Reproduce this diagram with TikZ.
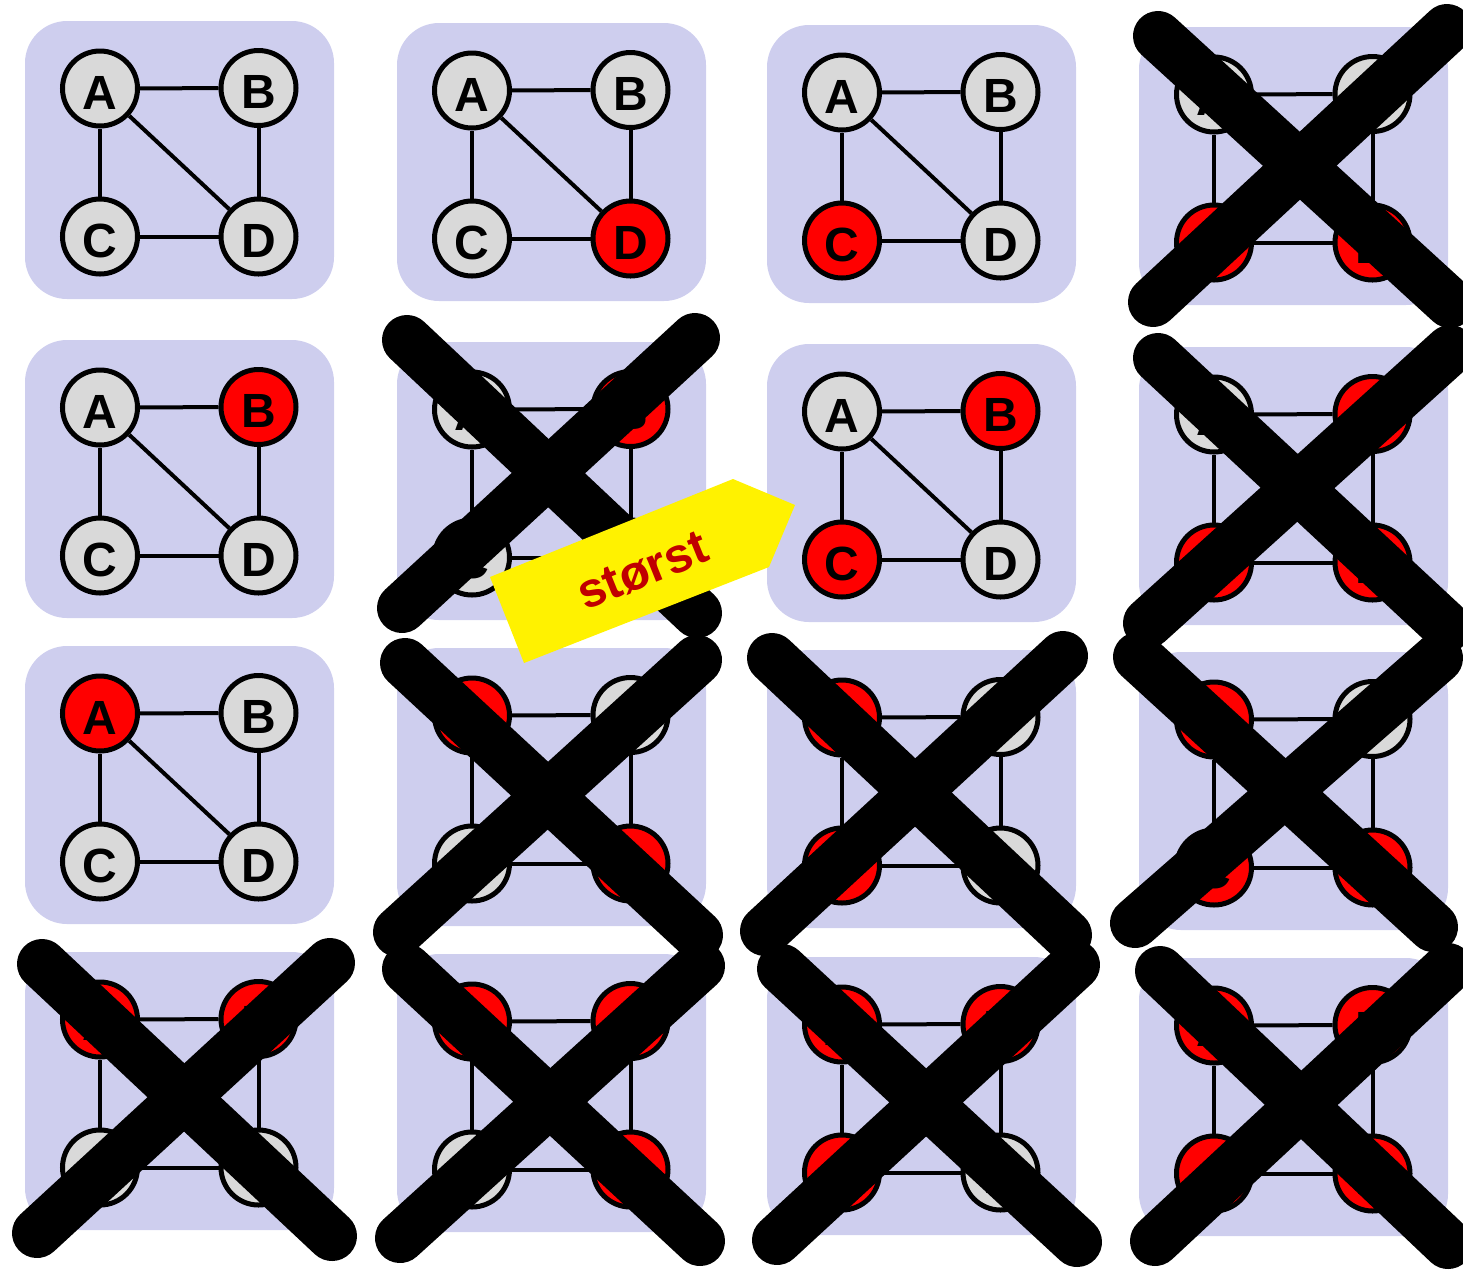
\documentclass[tikz,border=0pt]{standalone}
\usepackage{fontspec}
\setmainfont{Liberation Sans}
\definecolor{panelbg}{RGB}{206,206,238}
\definecolor{nodegray}{RGB}{217,217,217}
\definecolor{txtred}{RGB}{192,0,0}
\tikzset{
  panelbox/.style={fill=panelbg, rounded corners=21pt},
  vert/.style={circle, draw=black, line width=2.5pt, minimum size=37.5pt, inner sep=0pt,
    text height=20.5pt, text depth=0pt,
    font=\fontsize{24pt}{24pt}\selectfont\bfseries},
  vgray/.style={vert, fill=nodegray},
  vred/.style={vert, fill=red},
  gedge/.style={line width=2pt},
  crossline/.style={line width=25pt, line cap=round},
  arrowbody/.style={fill=yellow},
  arrowtext/.style={text=txtred, font=\fontsize{24.5pt}{25pt}\selectfont\bfseries, inner sep=0pt},
}
\newcommand\gpanel[7]{%
  \begin{scope}[shift={(#1,#2)}]
    \fill[panelbox] (0,0) rectangle (309,278);
    \node[#4] (#3A) at (75,67.5) {A};
    \node[#5] (#3B) at (233.5,67) {B};
    \node[#6] (#3C) at (75,215.5) {C};
    \node[#7] (#3D) at (233.5,215.5) {D};
    \draw[gedge] (#3A) -- (#3B);
    \draw[gedge] (#3A) -- (#3C);
    \draw[gedge] (#3A) -- (#3D);
    \draw[gedge] (#3B) -- (#3D);
    \draw[gedge] (#3C) -- (#3D);
  \end{scope}}
\begin{document}
\begin{tikzpicture}[x=0.5pt, y=-0.5pt]
  \useasboundingbox (0,0) rectangle (1463,1271);
  \clip (0,0) rectangle (1463,1271);
  % row 1
  \gpanel{25}{21}{pa}{vgray}{vgray}{vgray}{vgray}
  \gpanel{397}{23}{pb}{vgray}{vgray}{vgray}{vred}
  \gpanel{767}{25}{pc}{vgray}{vgray}{vred}{vgray}
  \gpanel{1139}{27}{pd}{vgray}{vgray}{vred}{vred}
  % row 2
  \gpanel{25}{340}{pe}{vgray}{vred}{vgray}{vgray}
  \gpanel{397}{342}{pf}{vgray}{vred}{vgray}{vred}
  \gpanel{767}{344}{pg}{vgray}{vred}{vred}{vgray}
  \gpanel{1139}{347}{ph}{vgray}{vred}{vred}{vred}
  % row 3
  \gpanel{25}{646}{pi}{vred}{vgray}{vgray}{vgray}
  \gpanel{397}{648}{pj}{vred}{vgray}{vgray}{vred}
  \gpanel{767}{650}{pk}{vred}{vgray}{vred}{vgray}
  \gpanel{1139}{652}{pl}{vred}{vgray}{vred}{vred}
  % row 4
  \gpanel{25}{952}{pm}{vred}{vred}{vgray}{vgray}
  \gpanel{397}{954}{pn}{vred}{vred}{vgray}{vred}
  \gpanel{767}{957}{po}{vred}{vred}{vred}{vgray}
  \gpanel{1139}{958}{pp}{vred}{vred}{vred}{vred}
  % crosses
  \draw[crossline] (1158,36) -- (1450,303);
  \draw[crossline] (1447,29) -- (1153,302);
  \draw[crossline] (407,340) -- (697,613);
  \draw[crossline] (695,338) -- (402,608);
  \draw[crossline] (1158,358) -- (1447,627);
  \draw[crossline] (1450,350) -- (1148,623);
  \draw[crossline] (405,663) -- (698,935);
  \draw[crossline] (697,660) -- (398,932);
  \draw[crossline] (772,658) -- (1067,935);
  \draw[crossline] (1063,656) -- (765,931);
  \draw[crossline] (1138,657) -- (1433,927);
  \draw[crossline] (1438,658) -- (1135,923);
  \draw[crossline] (42,964) -- (332,1236);
  \draw[crossline] (330,963) -- (37,1233);
  \draw[crossline] (407,969) -- (700,1241);
  \draw[crossline] (700,966) -- (400,1238);
  \draw[crossline] (782,969) -- (1077,1242);
  \draw[crossline] (1075,965) -- (777,1240);
  \draw[crossline] (1160,971) -- (1448,1244);
  \draw[crossline] (1448,968) -- (1155,1241);
  % arrow
  \fill[arrowbody] (490,577) -- (733,479) -- (795,505) -- (769,567) -- (524,663) -- cycle;
  \node[arrowtext, rotate=22] (lbl) at (643,571) {størst};
\end{tikzpicture}
\end{document}
